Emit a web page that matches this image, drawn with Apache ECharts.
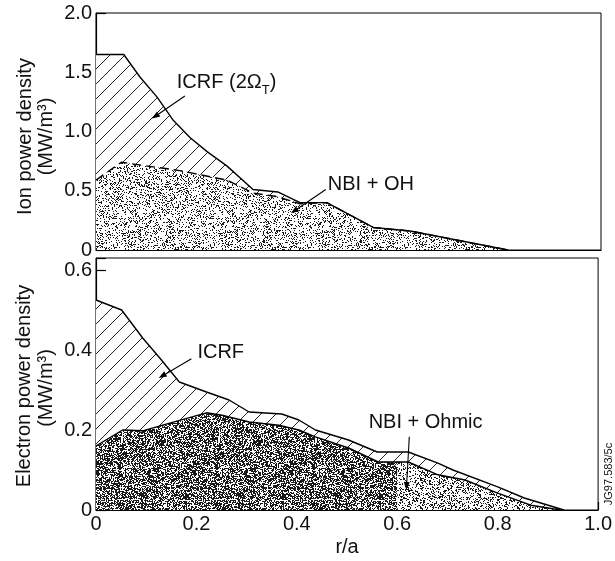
<!DOCTYPE html>
<html>
<head>
<meta charset="utf-8">
<script src="https://cdn.jsdelivr.net/npm/echarts@6/dist/echarts.min.js"></script>
<style>
html, body { margin: 0; padding: 0; background: #fff; }
#main { width: 615px; height: 561px; }
</style>
</head>
<body>
<div id="main"></div>
<script>
// ion power density (top panel), r/a nodes and values
const ionR = [0, 0.055, 0.087, 0.121, 0.152, 0.186, 0.220, 0.259, 0.311, 0.360, 0.404, 0.457, 0.549, 0.622, 0.816];
const ionTotal = [1.65, 1.65, 1.46, 1.29, 1.10, 0.95, 0.83, 0.71, 0.51, 0.49, 0.40, 0.40, 0.19, 0.16, 0];
const ionNbiR = [0, 0.05, 0.166, 0.259, 0.311, 0.360, 0.404, 0.457, 0.549, 0.622, 0.816];
const ionNbi = [0.59, 0.74, 0.67, 0.59, 0.48, 0.45, 0.39, 0.40, 0.19, 0.16, 0];

// electron power density (bottom panel)
const elecR = [0, 0.051, 0.093, 0.127, 0.166, 0.220, 0.265, 0.305, 0.370, 0.404, 0.437, 0.503, 0.560, 0.622, 0.681, 0.711, 0.80, 0.853, 0.932];
const elecTotal = [0.525, 0.50, 0.43, 0.38, 0.32, 0.295, 0.275, 0.245, 0.24, 0.225, 0.20, 0.175, 0.145, 0.145, 0.117, 0.10, 0.058, 0.03, 0];
const elecNbiR = [0, 0.053, 0.093, 0.147, 0.220, 0.251, 0.305, 0.364, 0.404, 0.437, 0.503, 0.562, 0.60, 0.622, 0.681, 0.735, 0.80, 0.866, 0.925];
const elecNbi = [0.16, 0.20, 0.198, 0.217, 0.243, 0.237, 0.22, 0.212, 0.20, 0.183, 0.155, 0.12, 0.12, 0.12, 0.088, 0.075, 0.042, 0.012, 0];

const xTicks = [0, 0.2, 0.4, 0.6, 0.8, 1.0];
const ionTicks = [0, 0.5, 1.0, 1.5, 2.0];
const elecTicks = [0, 0.2, 0.4, 0.6];

const FONT = '"Liberation Sans", Arial, sans-serif';
const INK = '#111';

function zip(xs, ys) { return xs.map((x, i) => [x, ys[i]]); }

// fixed seed so the stipple texture is the same every run
function makeRng(seed) {
  let s = seed >>> 0;
  return () => { s = (Math.imul(s, 1664525) + 1013904223) >>> 0; return s / 4294967296; };
}

function stipple(density, seed) {
  const c = document.createElement('canvas');
  c.width = 97; c.height = 89;
  const ctx = c.getContext('2d');
  ctx.fillStyle = '#fff';
  ctx.fillRect(0, 0, c.width, c.height);
  ctx.fillStyle = '#1a1a1a';
  const rnd = makeRng(seed);
  for (let y = 0; y < c.height; y++) {
    for (let x = 0; x < c.width; x++) {
      if (rnd() < density) ctx.fillRect(x, y, 1, 1);
    }
  }
  return { image: c, repeat: 'repeat' };
}

function hatch(step) {
  const c = document.createElement('canvas');
  c.width = step; c.height = step;
  const ctx = c.getContext('2d');
  ctx.fillStyle = '#fff';
  ctx.fillRect(0, 0, step, step);
  ctx.strokeStyle = '#222';
  ctx.lineWidth = 1;
  ctx.beginPath();
  ctx.moveTo(-step / 2, step / 2); ctx.lineTo(step / 2, -step / 2);
  ctx.moveTo(0, step); ctx.lineTo(step, 0);
  ctx.moveTo(step / 2, step * 1.5); ctx.lineTo(step * 1.5, step / 2);
  ctx.stroke();
  return { image: c, repeat: 'repeat' };
}

function tickFmt(ticks) {
  return v => {
    const hit = ticks.some(t => Math.abs(t - v) < 1e-6);
    if (!hit) return '';
    return v === 0 ? '0' : v.toFixed(1);
  };
}

const chart = echarts.init(document.getElementById('main'), null, { renderer: 'canvas' });

const G = { left: 96, right: 14, top0: 13, h0: 237, top1: 258, h1: 252 };

const axisLine = { show: true, lineStyle: { color: '#000', width: 1.2 } };
const labelStyle = { fontFamily: FONT, fontSize: 20, color: INK };

function areaSeries(gi, data, fill, z) {
  return {
    type: 'line', xAxisIndex: gi, yAxisIndex: gi, data: data,
    symbol: 'none', silent: true, z: z,
    lineStyle: { width: 0 },
    areaStyle: { color: fill, opacity: 1 }
  };
}
function lineSeries(gi, data, dashed, z) {
  return {
    type: 'line', xAxisIndex: gi, yAxisIndex: gi, data: data,
    symbol: 'none', silent: true, z: z,
    lineStyle: { color: '#000', width: 1.4, type: dashed ? [9, 5] : 'solid' }
  };
}

const elecNbiData = zip(elecNbiR, elecNbi);

const option = {
  animation: false,
  backgroundColor: '#fff',
  grid: [
    { left: G.left, right: G.right, top: G.top0, height: G.h0, show: true, borderColor: '#000', borderWidth: 1 },
    { left: G.left, right: G.right, top: G.top1, height: G.h1, show: true, borderColor: '#000', borderWidth: 1 }
  ],
  xAxis: [
    {
      gridIndex: 0, type: 'value', min: 0, max: 1, interval: 0.2,
      axisLine: axisLine, axisTick: { show: false }, axisLabel: { show: false }, splitLine: { show: false }
    },
    {
      gridIndex: 1, type: 'value', min: 0, max: 1, interval: 0.2,
      axisLine: axisLine,
      axisTick: { show: true, inside: true, length: 8, lineStyle: { color: '#000', width: 1.2 } },
      axisLabel: Object.assign({ margin: 4, formatter: tickFmt(xTicks) }, labelStyle),
      splitLine: { show: false },
      name: 'r/a', nameLocation: 'middle', nameGap: 27,
      nameTextStyle: labelStyle
    }
  ],
  yAxis: [
    {
      gridIndex: 0, type: 'value', min: 0, max: 2, interval: 0.5,
      axisLine: axisLine,
      axisTick: { show: true, inside: true, length: 10, lineStyle: { color: '#000', width: 1.2 } },
      axisLabel: Object.assign({ margin: 4, formatter: tickFmt(ionTicks) }, labelStyle),
      splitLine: { show: false }
    },
    {
      gridIndex: 1, type: 'value', min: 0, max: 0.63, interval: 0.2,
      axisLine: axisLine,
      axisTick: { show: true, inside: true, length: 10, lineStyle: { color: '#000', width: 1.2 } },
      axisLabel: Object.assign({ margin: 4, formatter: tickFmt(elecTicks) }, labelStyle),
      splitLine: { show: false }
    }
  ],
  series: [
    // top: hatched ICRF under the total, NBI+OH stipple on top of it
    areaSeries(0, zip(ionR, ionTotal), hatch(15), 2),
    areaSeries(0, zip(ionNbiR, ionNbi), stipple(0.24, 7), 3),
    lineSeries(0, zip(ionNbiR, ionNbi), true, 4),
    lineSeries(0, zip(ionR, ionTotal), false, 5),
    // bottom: hatched ICRF, dense stipple inside 0.6, lighter outside
    areaSeries(1, zip(elecR, elecTotal), hatch(15), 2),
    areaSeries(1, elecNbiData.filter(p => p[0] <= 0.6), stipple(0.58, 11), 3),
    areaSeries(1, elecNbiData.filter(p => p[0] >= 0.6), stipple(0.28, 19), 3),
    lineSeries(1, elecNbiData, false, 4),
    lineSeries(1, zip(elecR, elecTotal), false, 5)
  ]
};

chart.setOption(option);

// annotations are anchored in data space of each panel
const measure = document.createElement('canvas').getContext('2d');
function textW(str, size) { measure.font = size + 'px ' + FONT; return measure.measureText(str).width; }
function px(gi, pt) { return chart.convertToPixel({ gridIndex: gi }, pt); }

function label(p, str, size) {
  return {
    type: 'text', x: p[0], y: p[1], silent: true, z: 100,
    style: { text: str, font: size + 'px ' + FONT, fill: INK, textAlign: 'left', textVerticalAlign: 'middle', align: 'left', verticalAlign: 'middle' }
  };
}

function arrow(a, b) {
  const dx = b[0] - a[0], dy = b[1] - a[1];
  const len = Math.hypot(dx, dy), ux = dx / len, uy = dy / len;
  const hl = 8, hw = 3;
  const bx = b[0] - ux * hl, by = b[1] - uy * hl;
  return [
    { type: 'line', silent: true, z: 100, shape: { x1: a[0], y1: a[1], x2: bx, y2: by }, style: { stroke: '#000', lineWidth: 1.1 } },
    { type: 'polygon', silent: true, z: 100, shape: { points: [[b[0], b[1]], [bx - uy * hw, by + ux * hw], [bx + uy * hw, by - ux * hw]] }, style: { fill: '#000' } }
  ];
}

const g = [];
// ICRF (2Ω_T)
const icrfTop = px(0, [0.160, 1.41]);
const part1 = 'ICRF (2\u03A9';
const w1 = textW(part1, 20);
g.push(label(icrfTop, part1, 20));
g.push(label([icrfTop[0] + w1, icrfTop[1] + 8], 'T', 13));
g.push(label([icrfTop[0] + w1 + textW('T', 13), icrfTop[1]], ')', 20));
g.push(...arrow(px(0, [0.176, 1.30]), px(0, [0.111, 1.11])));
// NBI + OH
g.push(label(px(0, [0.459, 0.55]), 'NBI + OH', 20));
g.push(...arrow(px(0, [0.455, 0.51]), px(0, [0.386, 0.31])));
// ICRF bottom
g.push(label(px(1, [0.202, 0.395]), 'ICRF', 20));
g.push(...arrow(px(1, [0.190, 0.378]), px(1, [0.125, 0.33])));
// NBI + Ohmic
g.push(label(px(1, [0.543, 0.218]), 'NBI + Ohmic', 20));
g.push(...arrow(px(1, [0.624, 0.183]), px(1, [0.618, 0.05])));

// rotated axis titles
const mid0 = G.top0 + G.h0 / 2, mid1 = G.top1 + G.h1 / 2;
function vtext(x, y, str, size) {
  return {
    type: 'text', x: x, y: y, rotation: Math.PI / 2, silent: true, z: 100,
    style: { text: str, font: size + 'px ' + FONT, fill: INK, textAlign: 'center', textVerticalAlign: 'middle', align: 'center', verticalAlign: 'middle' }
  };
}
g.push(vtext(25, mid0 + 5, 'Ion power density', 20));
g.push(vtext(46, mid0 + 5, '(MW/m\u00B3)', 20));
g.push(vtext(24, mid1 + 2, 'Electron power density', 20));
g.push(vtext(46, mid1 + 4, '(MW/m\u00B3)', 20));
// figure reference
g.push(vtext(609, 474, 'JG97.583/5c', 11));

chart.setOption({ graphic: g });
</script>
</body>
</html>
